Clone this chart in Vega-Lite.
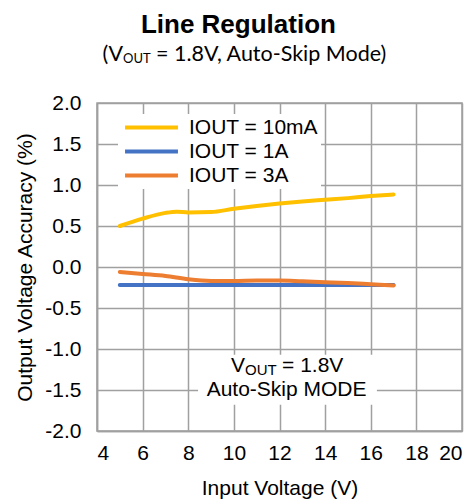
{
  "$schema": "https://vega.github.io/schema/vega-lite/v6.json",
  "width": 365,
  "height": 328,
  "autosize": {"type": "none"},
  "padding": {"left": 97, "top": 103, "right": 12, "bottom": 69},
  "background": "white",
  "title": {
    "text": "Line Regulation",
    "font": "Liberation Sans",
    "fontSize": 26,
    "fontWeight": "bold",
    "color": "black",
    "anchor": "middle",
    "frame": "bounds",
    "offset": 6
  },
  "config": {
    "view": {"stroke": "#a0a0a0", "strokeWidth": 1.5},
    "axis": {
      "gridColor": "#a0a0a0",
      "gridWidth": 1.5,
      "domainColor": "#a0a0a0",
      "domainWidth": 1.5,
      "ticks": false,
      "labelFont": "Liberation Sans",
      "labelFontSize": 21,
      "labelColor": "black",
      "titleFont": "Liberation Sans",
      "titleFontSize": 21,
      "titleFontWeight": "normal",
      "titleColor": "black"
    }
  },
  "layer": [
    {
      "data": {"values": [{"x1": 8.43, "x2": 16.27, "y1": -1.07, "y2": -1.68}]},
      "mark": {"type": "rect", "fill": "white"},
      "encoding": {
        "x": {"field": "x1", "type": "quantitative", "scale": {"domain": [4, 20]}},
        "x2": {"field": "x2"},
        "y": {"field": "y1", "type": "quantitative", "scale": {"domain": [-2, 2]}},
        "y2": {"field": "y2"}
      }
    },
    {
      "data": {
        "values": [
          {"vin": 5, "acc": 0.50, "series": "IOUT = 10mA"},
          {"vin": 6, "acc": 0.59, "series": "IOUT = 10mA"},
          {"vin": 7, "acc": 0.66, "series": "IOUT = 10mA"},
          {"vin": 7.5, "acc": 0.675, "series": "IOUT = 10mA"},
          {"vin": 8, "acc": 0.665, "series": "IOUT = 10mA"},
          {"vin": 9, "acc": 0.67, "series": "IOUT = 10mA"},
          {"vin": 10, "acc": 0.71, "series": "IOUT = 10mA"},
          {"vin": 11, "acc": 0.745, "series": "IOUT = 10mA"},
          {"vin": 12, "acc": 0.775, "series": "IOUT = 10mA"},
          {"vin": 13, "acc": 0.80, "series": "IOUT = 10mA"},
          {"vin": 14, "acc": 0.82, "series": "IOUT = 10mA"},
          {"vin": 15, "acc": 0.84, "series": "IOUT = 10mA"},
          {"vin": 16, "acc": 0.865, "series": "IOUT = 10mA"},
          {"vin": 17, "acc": 0.885, "series": "IOUT = 10mA"},
          {"vin": 5, "acc": -0.22, "series": "IOUT = 1A"},
          {"vin": 7, "acc": -0.22, "series": "IOUT = 1A"},
          {"vin": 9, "acc": -0.22, "series": "IOUT = 1A"},
          {"vin": 11, "acc": -0.22, "series": "IOUT = 1A"},
          {"vin": 13, "acc": -0.22, "series": "IOUT = 1A"},
          {"vin": 15, "acc": -0.22, "series": "IOUT = 1A"},
          {"vin": 17, "acc": -0.22, "series": "IOUT = 1A"},
          {"vin": 5, "acc": -0.06, "series": "IOUT = 3A"},
          {"vin": 6, "acc": -0.085, "series": "IOUT = 3A"},
          {"vin": 7, "acc": -0.11, "series": "IOUT = 3A"},
          {"vin": 8, "acc": -0.15, "series": "IOUT = 3A"},
          {"vin": 9, "acc": -0.17, "series": "IOUT = 3A"},
          {"vin": 10, "acc": -0.17, "series": "IOUT = 3A"},
          {"vin": 11, "acc": -0.165, "series": "IOUT = 3A"},
          {"vin": 12, "acc": -0.165, "series": "IOUT = 3A"},
          {"vin": 13, "acc": -0.175, "series": "IOUT = 3A"},
          {"vin": 14, "acc": -0.185, "series": "IOUT = 3A"},
          {"vin": 15, "acc": -0.195, "series": "IOUT = 3A"},
          {"vin": 16, "acc": -0.21, "series": "IOUT = 3A"},
          {"vin": 17, "acc": -0.225, "series": "IOUT = 3A"}
        ]
      },
      "mark": {"type": "line", "interpolate": "monotone", "strokeWidth": 4, "strokeCap": "round"},
      "encoding": {
        "x": {
          "field": "vin", "type": "quantitative",
          "scale": {"domain": [4, 20], "nice": false},
          "axis": {"values": [4, 6, 8, 10, 12, 14, 16, 18, 20], "title": "Input Voltage (V)", "labelPadding": 11, "titlePadding": 14}
        },
        "y": {
          "field": "acc", "type": "quantitative",
          "scale": {"domain": [-2, 2], "nice": false, "zero": false},
          "axis": {"values": [-2, -1.5, -1, -0.5, 0, 0.5, 1, 1.5, 2], "labelExpr": "replace(format(datum.value, '.1f'), '\u2212', '-')", "title": "Output Voltage Accuracy (%)", "labelPadding": 16, "titlePadding": 9}
        },
        "color": {
          "field": "series", "type": "nominal",
          "scale": {"domain": ["IOUT = 10mA", "IOUT = 1A", "IOUT = 3A"], "range": ["#FFC000", "#4472C4", "#ED7D31"]},
          "legend": {
            "title": null,
            "orient": "none",
            "legendX": 21,
            "legendY": 11,
            "fillColor": "white",
            "padding": 3,
            "symbolType": "M-5,0L5,0",
            "symbolSize": 112,
            "symbolStrokeWidth": 4,
            "symbolOffset": 20,
            "labelFont": "Liberation Sans",
            "labelFontSize": 21,
            "labelColor": "black",
            "labelOffset": 27,
            "rowPadding": 2
          }
        }
      }
    },
    {
      "data": {"values": [{"x": 10.49, "y": -1.21, "t": "V"}]},
      "mark": {"type": "text", "align": "right", "baseline": "middle", "font": "Liberation Sans", "fontSize": 21, "color": "black"},
      "encoding": {"x": {"field": "x", "type": "quantitative"}, "y": {"field": "y", "type": "quantitative"}, "text": {"field": "t"}}
    },
    {
      "data": {"values": [{"x": 10.49, "y": -1.21, "t": "OUT"}]},
      "mark": {"type": "text", "align": "left", "baseline": "middle", "dy": 4, "font": "Liberation Sans", "fontSize": 15, "color": "black"},
      "encoding": {"x": {"field": "x", "type": "quantitative"}, "y": {"field": "y", "type": "quantitative"}, "text": {"field": "t"}}
    },
    {
      "data": {"values": [{"x": 10.49, "y": -1.21, "t": "= 1.8V"}]},
      "mark": {"type": "text", "align": "left", "baseline": "middle", "dx": 37, "font": "Liberation Sans", "fontSize": 21, "color": "black"},
      "encoding": {"x": {"field": "x", "type": "quantitative"}, "y": {"field": "y", "type": "quantitative"}, "text": {"field": "t"}}
    },
    {
      "data": {"values": [{"x": 12.31, "y": -1.5, "t": "Auto-Skip MODE"}]},
      "mark": {"type": "text", "align": "center", "baseline": "middle", "font": "Liberation Sans", "fontSize": 21, "color": "black"},
      "encoding": {"x": {"field": "x", "type": "quantitative"}, "y": {"field": "y", "type": "quantitative"}, "text": {"field": "t"}}
    },
    {
      "data": {"values": [{"x": 5.14, "y": 2.585, "t": "(V"}]},
      "mark": {"type": "text", "align": "right", "baseline": "middle", "font": "Lato", "fontSize": 21.5, "color": "black"},
      "encoding": {"x": {"field": "x", "type": "quantitative"}, "y": {"field": "y", "type": "quantitative"}, "text": {"field": "t"}}
    },
    {
      "data": {"values": [{"x": 5.14, "y": 2.585, "t": "OUT"}]},
      "mark": {"type": "text", "align": "left", "baseline": "middle", "dy": 4, "font": "Lato", "fontSize": 13, "color": "black"},
      "encoding": {"x": {"field": "x", "type": "quantitative"}, "y": {"field": "y", "type": "quantitative"}, "text": {"field": "t"}}
    },
    {
      "data": {"values": [{"x": 5.14, "y": 2.585, "t": "= 1.8V, Auto-Skip Mode)"}]},
      "mark": {"type": "text", "align": "left", "baseline": "middle", "dx": 33, "font": "Lato", "fontSize": 21.5, "color": "black"},
      "encoding": {"x": {"field": "x", "type": "quantitative"}, "y": {"field": "y", "type": "quantitative"}, "text": {"field": "t"}}
    }
  ]
}
